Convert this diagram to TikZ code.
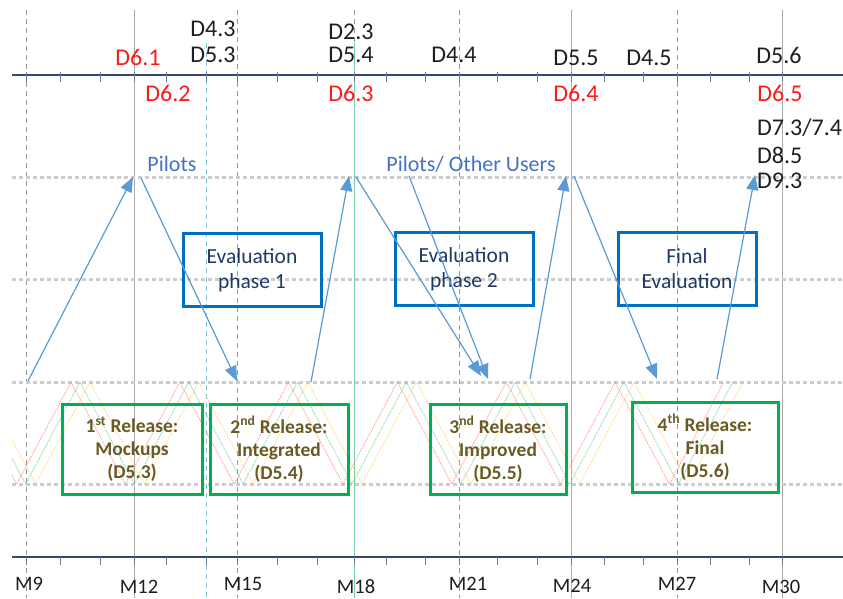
\documentclass[tikz,border=0pt]{standalone}
\usepackage{fontspec}
\setmainfont{Carlito}
\usetikzlibrary{arrows.meta}
\definecolor{txtblack}{RGB}{30,30,30}
\definecolor{dred}{RGB}{255,25,25}
\definecolor{pilblue}{RGB}{68,114,196}
\definecolor{navytxt}{RGB}{31,56,100}
\definecolor{boxblue}{RGB}{0,112,192}
\definecolor{boxgreen}{RGB}{0,176,80}
\definecolor{olivetxt}{RGB}{105,90,35}
\definecolor{arrowblue}{RGB}{91,155,213}
\definecolor{axisnavy}{RGB}{50,70,110}
\definecolor{tickgray}{RGB}{110,125,150}
\definecolor{vgray}{RGB}{150,150,150}
\definecolor{vsolid}{RGB}{170,170,170}
\definecolor{vteal}{RGB}{120,205,175}
\definecolor{vcyan}{RGB}{120,200,215}
\definecolor{hdot}{RGB}{205,205,205}
\definecolor{zzred}{RGB}{255,120,110}
\definecolor{zzgreen}{RGB}{100,195,130}
\definecolor{zzyellow}{RGB}{255,205,90}
\begin{document}
\begin{tikzpicture}[x=1pt,y=-1pt,
  vdash/.style={draw=vgray, line width=0.8pt, dash pattern=on 5pt off 4pt},
  vsol/.style={draw=vsolid, line width=0.9pt},
  hdotline/.style={draw=hdot, line width=3pt, dash pattern=on 3.5pt off 3.5pt},
  axisline/.style={draw=axisnavy, line width=1.8pt},
  tickline/.style={draw=tickgray, line width=0.8pt},
  zz/.style={line width=1pt, dash pattern=on 1.5pt off 1pt, opacity=0.6},
  dlab/.style={font=\fontsize{24}{28}\selectfont, text=txtblack, inner sep=0pt},
  rlab/.style={dlab, text=dred},
  mlab/.style={font=\fontsize{20.5}{24}\selectfont, text=txtblack, inner sep=0pt},
  pil/.style={font=\fontsize{22}{26}\selectfont, text=pilblue, inner sep=0pt},
  evalbox/.style={draw=boxblue, line width=3pt, minimum width=138pt, minimum height=73pt,
    inner sep=0pt, align=center, font=\fontsize{21.5}{25}\selectfont, text=navytxt},
  relbox/.style={draw=boxgreen, line width=3pt, minimum height=90pt,
    inner sep=0pt, align=center, font=\bfseries\fontsize{19.5}{23}\selectfont, text=olivetxt},
  arr/.style={draw=arrowblue, line width=1.2pt, -{Triangle[length=15pt,width=12pt]}, fill=arrowblue}
]
\useasboundingbox (0,0) rectangle (843,598);

% vertical guide lines
\foreach \xx in {26,237,354,459,677}{\draw[vdash] (\xx,10) -- (\xx,598);}
\foreach \xx in {134,571,782}{\draw[vsol] (\xx,10) -- (\xx,598);}
\draw[draw=vteal, line width=0.9pt] (354,43) -- (354,598);
\draw[draw=vteal, line width=0.9pt] (571,43) -- (571,598);
\draw[draw=vcyan, line width=0.9pt, dash pattern=on 5pt off 4pt] (206,43) -- (206,598);

% horizontal dotted lines
\foreach \yy in {177,279,382,484}{\draw[hdotline] (12,\yy) -- (843,\yy);}

% zigzags
\foreach \col/\zo in {zzred/0, zzgreen/9, zzyellow/19}{
  \pgfmathsetmacro\ys{484-(16.6+\zo-12)*1.875}
  \draw[zz, draw=\col] (12,\ys) foreach \k in {0,...,6}{ -- ({16.6+108.8*\k+\zo},484) -- ({71+108.8*\k+\zo},382) };
}

% axes
\draw[axisline] (12,75) -- (843,75);
\draw[axisline] (12,557) -- (843,557);
\foreach \xx in {26,60,100,134,166,206,237,277,317,354,386,425,459,497,537,571,604,643,677,710,749,782}{
  \draw[tickline] (\xx,72) -- (\xx,82);
  \draw[tickline] (\xx,557) -- (\xx,565);
}

% top labels
\node[rlab] (d61) at (138,57) {D6.1};
\node[dlab] (d43) at (213,29) {D4.3};
\node[dlab] (d53) at (213,55) {D5.3};
\node[dlab] (d23) at (351,32) {D2.3};
\node[dlab] (d54) at (351,55) {D5.4};
\node[dlab] (d44) at (454,55) {D4.4};
\node[dlab] (d55) at (576,58) {D5.5};
\node[dlab] (d45) at (649,58) {D4.5};
\node[dlab] (d56) at (779,55) {D5.6};
\node[rlab] (d62) at (168,93) {D6.2};
\node[rlab] (d63) at (351,93) {D6.3};
\node[rlab] (d64) at (576,93) {D6.4};
\node[rlab] (d65) at (780,93) {D6.5};
\node[dlab, anchor=west] (d73) at (757,128) {D7.3/7.4};
\node[dlab, anchor=west] (d85) at (757,155) {D8.5};
\node[dlab, anchor=west] (d93) at (757,181) {D9.3};

% pilots labels
\node[pil] (pil1) at (172,164) {Pilots};
\node[pil] (pil2) at (471,164) {Pilots/ Other Users};

% evaluation boxes
\node[evalbox] (ev1) at (252,270) {Evaluation\\phase 1};
\node[evalbox] (ev2) at (464,269) {Evaluation\\phase 2};
\node[evalbox] (ev3) at (687,269) {Final\\Evaluation};

% release boxes
\node[relbox, minimum width=140pt] (r1) at (132,449) {1\textsuperscript{st} Release:\\Mockups\\(D5.3)};
\node[relbox, minimum width=138pt] (r2) at (279,449) {2\textsuperscript{nd} Release:\\Integrated\\(D5.4)};
\node[relbox, minimum width=136pt] (r3) at (498,449) {3\textsuperscript{nd} Release:\\Improved\\(D5.5)};
\node[relbox, minimum width=146pt] (r4) at (705,447) {4\textsuperscript{th} Release:\\Final\\(D5.6)};

% arrow end points
\coordinate (a1s) at (28,381);  \coordinate (a1e) at (133,177);
\coordinate (a2s) at (141,178); \coordinate (a2e) at (237,381);
\coordinate (a3s) at (311,382); \coordinate (a3e) at (349,176);
\coordinate (a4s) at (356,177); \coordinate (a4e) at (481,376);
\coordinate (a5s) at (409,176); \coordinate (a5e) at (488,379);
\coordinate (a6s) at (530,379); \coordinate (a6e) at (566,176);
\coordinate (a7s) at (574,176); \coordinate (a7e) at (657,379);
\coordinate (a8s) at (717,379); \coordinate (a8e) at (755,175);
\foreach \i in {1,...,8}{\draw[arr] (a\i s) -- (a\i e);}

% bottom labels
\node[mlab] (m9)  at (29,584)  {M9};
\node[mlab] (m12) at (139,587) {M12};
\node[mlab] (m15) at (243,584) {M15};
\node[mlab] (m18) at (356,587) {M18};
\node[mlab] (m21) at (468,584) {M21};
\node[mlab] (m24) at (572,586) {M24};
\node[mlab] (m27) at (677,584) {M27};
\node[mlab] (m30) at (781,587) {M30};
\end{tikzpicture}
\end{document}
